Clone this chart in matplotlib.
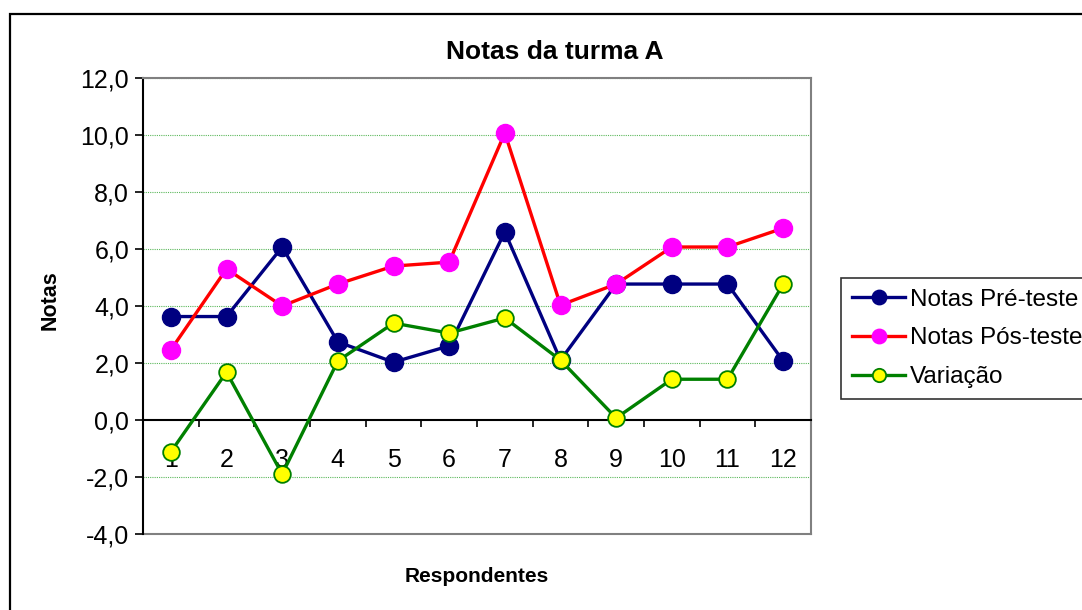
import matplotlib.pyplot as plt
from matplotlib.patches import Rectangle
from matplotlib.ticker import FuncFormatter, FixedLocator
import numpy as np

plt.rcParams["font.family"] = ["Liberation Sans", "DejaVu Sans"]

# data
respondentes = [1, 2, 3, 4, 5, 6, 7, 8, 9, 10, 11, 12]
pre_teste = [3.63, 3.63, 6.07, 2.74, 2.03, 2.60, 6.60, 2.10, 4.77, 4.77, 4.77, 2.07]
pos_teste = [2.46, 5.30, 4.00, 4.77, 5.40, 5.54, 10.07, 4.03, 4.77, 6.07, 6.07, 6.73]
variacao = [-1.12, 1.68, -1.90, 2.07, 3.40, 3.05, 3.58, 2.10, 0.07, 1.43, 1.43, 4.77]
y_ticks = [-4, -2, 0, 2, 4, 6, 8, 10, 12]

fig = plt.figure(figsize=(10.82, 6.10), dpi=100)
ax = fig.add_axes([143 / 1082, 76 / 610, (811 - 143) / 1082, (534 - 78) / 610])

x = np.array(respondentes)
ax.plot(x, pre_teste, color="#000080", lw=2.4, marker="o", ms=13,
        mfc="#000080", mec="#000080", label="Notas Pré-teste", zorder=3)
ax.plot(x, pos_teste, color="#ff0000", lw=2.4, marker="o", ms=13,
        mfc="#ff00ff", mec="#ff00ff", label="Notas Pós-teste", zorder=3)
ax.plot(x, variacao, color="#008000", lw=2.4, marker="o", ms=12,
        mfc="#ffff00", mec="#008000", mew=1.3, label="Variação", zorder=4)

ax.set_xlim(0.5, 12.5)
ax.set_ylim(-4, 12)

# y axis
ax.yaxis.set_major_locator(FixedLocator(y_ticks))
ax.yaxis.set_major_formatter(FuncFormatter(lambda v, p: f"{v:.1f}".replace(".", ",")))
ax.tick_params(axis="y", direction="out", length=6, width=1.2, labelsize=18, pad=4)
for v in y_ticks[1:]:
    if v != 0:
        ax.axhline(v, color="#5cb85c", lw=0.8, ls=(0, (1, 1)), zorder=1)

# x axis at zero, ticks between categories
ax.spines["bottom"].set_position(("data", 0))
ax.spines["bottom"].set_linewidth(1.5)
ax.spines["left"].set_linewidth(1.5)
for s in ["top", "right"]:
    ax.spines[s].set_color("#808080")
    ax.spines[s].set_linewidth(1.5)
ax.axhline(-4, color="#808080", lw=1.5, clip_on=False, zorder=2)

ax.xaxis.set_major_locator(FixedLocator(np.arange(0.5, 13, 1)))
ax.xaxis.set_minor_locator(FixedLocator(x))
ax.xaxis.set_major_formatter(FuncFormatter(lambda v, p: ""))
ax.xaxis.set_minor_formatter(FuncFormatter(lambda v, p: str(int(round(v)))))
ax.tick_params(axis="x", which="major", direction="out", length=5, width=1.2)
ax.tick_params(axis="x", which="minor", length=0, labelsize=18, pad=20)

fig.text(555 / 1082, 1 - 52 / 610, "Notas da turma A", fontsize=19,
         fontweight="bold", ha="center", va="center")
fig.text(50 / 1082, 1 - 300 / 610, "Notas", fontsize=15.5, fontweight="bold",
         rotation=90, ha="center", va="center")
fig.text(477 / 1082, 1 - 576 / 610, "Respondentes", fontsize=15,
         fontweight="bold", ha="center", va="center")

leg = fig.legend(loc="upper left", bbox_to_anchor=(841 / 1082, 1 - 278 / 610),
                 fontsize=17.5, frameon=True, fancybox=False, handlelength=2.2,
                 handletextpad=0.2, labelspacing=0.68, borderpad=0.45,
                 markerscale=0.8, borderaxespad=0)
leg.get_frame().set_edgecolor("black")
leg.get_frame().set_linewidth(1.2)

# outer chart border, running off the right and bottom edges
fig.patches.append(Rectangle((10 / 1082, -0.2), 2, 1.2 - 14 / 610,
                             transform=fig.transFigure, fill=False,
                             edgecolor="black", lw=1.6))

fig.savefig("out.png", dpi=100)
